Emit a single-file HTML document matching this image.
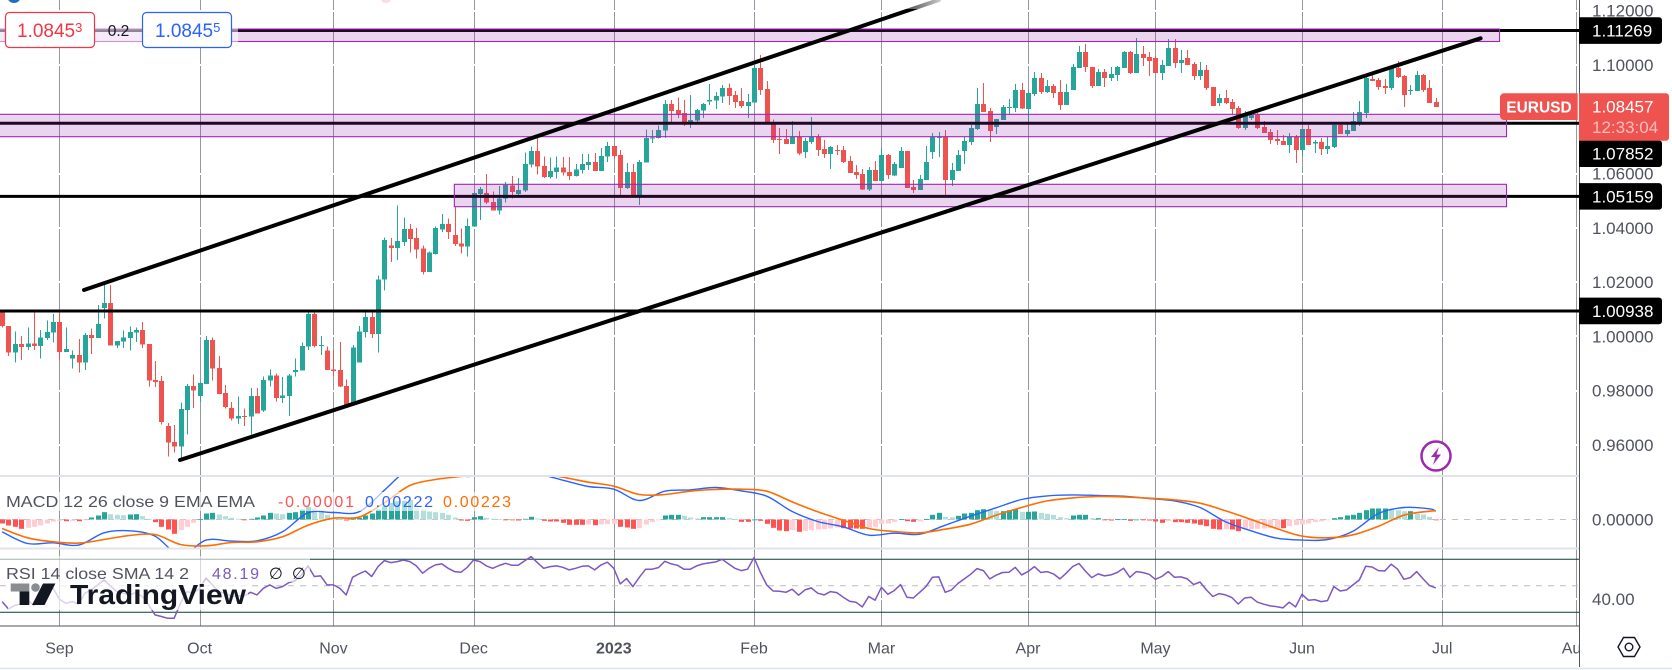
<!DOCTYPE html>
<html lang="en">
<head>
<meta charset="utf-8">
<title>EURUSD daily chart</title>
<style>
html,body{margin:0;padding:0;background:#fff;width:1672px;height:670px;overflow:hidden}
svg{display:block;font-family:"Liberation Sans",sans-serif}
text{font-family:"Liberation Sans","DejaVu Sans",sans-serif}
</style>
</head>
<body>
<svg id="chart" xmlns="http://www.w3.org/2000/svg" width="1672" height="670" viewBox="0 0 1672 670">
  <defs>
    <clipPath id="macd-clip"><rect x="0" y="477" width="1579" height="71"/></clipPath>
    <clipPath id="rsi-clip"><rect x="0" y="549" width="1579" height="77"/></clipPath>
    <linearGradient id="fade" x1="0" x2="1" y1="0" y2="0">
      <stop offset="0" stop-color="#fff" stop-opacity="0"/>
      <stop offset="1" stop-color="#fff" stop-opacity=".85"/>
    </linearGradient>
  </defs>
  <rect x="0" y="0" width="1672" height="670" fill="#fff"/>
  <g id="grid"></g>
  <g id="hist" clip-path="url(#macd-clip)"></g>
  <g id="macdLines" clip-path="url(#macd-clip)"></g>
  <g id="rsiPane" clip-path="url(#rsi-clip)"></g>
  <g id="candles" shape-rendering="crispEdges"></g>
  <g id="levels"></g>
  <g id="bands"></g>
  <g id="channels"></g>

  <rect x="885" y="0" width="60" height="9" fill="url(#fade)"/>
  <circle cx="14" cy="-4" r="7" fill="#1e6fc4"/>
  <circle cx="386" cy="-3" r="6" fill="#fbdfe0"/>

  <g>
    <circle cx="1436" cy="456" r="14.5" fill="#fff" stroke="#9c27b0" stroke-width="2.5"/>
    <path d="M1439 447l-8 10h4.500l-2.500 8 8-10.500h-4.500z" fill="#9c27b0"/>
  </g>

  <!-- top trading widget -->
  <rect x="0" y="12" width="238" height="36" fill="#fff" fill-opacity=".5"/>
  <g>
    <rect x="5.500" y="12.500" width="89" height="35" rx="4" fill="#fff" stroke="#f23645" stroke-width="1.200"/>
    <text x="17" y="37" font-size="19" fill="#f23645">1.0845<tspan font-size="13" dy="-5">3</tspan></text>
  </g>
  <text x="118.500" y="36" font-size="15.500" fill="#131722" text-anchor="middle">0.2</text>
  <g>
    <rect x="142.500" y="12.500" width="89" height="35" rx="4" fill="#fff" stroke="#2962ff" stroke-width="1.200"/>
    <text x="155" y="37" font-size="19" fill="#2962ff">1.0845<tspan font-size="13" dy="-5">5</tspan></text>
  </g>

  <!-- legends -->
  <rect x="4" y="492" width="511" height="19" fill="#fff" fill-opacity=".62"/>
  <text x="6" y="507" font-size="16" fill="#50535e" textLength="249" lengthAdjust="spacingAndGlyphs">MACD 12 26 close 9 EMA EMA</text>
  <text x="278" y="507" font-size="16" fill="#ff5252" textLength="76">-0.00001</text>
  <text x="365" y="507" font-size="16" fill="#2962ff" textLength="68">0.00222</text>
  <text x="443" y="507" font-size="16" fill="#ff6d00" textLength="68">0.00223</text>

  <rect x="0" y="556" width="310" height="26" fill="#fff" fill-opacity=".62"/>
  <rect x="8" y="582" width="240" height="28" fill="#fff" fill-opacity=".72"/>
  <text x="6" y="579" font-size="16" fill="#50535e" textLength="183" lengthAdjust="spacingAndGlyphs">RSI 14 close SMA 14 2</text>
  <text x="212" y="579" font-size="16" fill="#7e57c2" textLength="47">48.19</text>
  <text x="269" y="579" font-size="16" fill="#131722">∅</text>
  <text x="292" y="579" font-size="16" fill="#131722">∅</text>

  <g>
    <rect x="10.700" y="583.500" width="18.600" height="8" fill="#8a8c93"/>
    <rect x="19.600" y="591.500" width="9.700" height="13.500" fill="#131722"/>
    <circle cx="35.500" cy="587.500" r="4.300" fill="#8a8c93"/>
    <polygon points="43,583.500 55.400,583.500 44.600,605 32,605" fill="#131722"/>
    <text x="70" y="604" font-size="28" font-weight="bold" fill="#131722" textLength="176" lengthAdjust="spacingAndGlyphs">TradingView</text>
  </g>

  <!-- pane frames -->
  <line x1="0" x2="1579" y1="476" y2="476" stroke="#e0e3eb" stroke-width="2"/>
  <line x1="0" x2="1579" y1="548.500" y2="548.500" stroke="#e0e3eb" stroke-width="2"/>
  <rect x="0" y="627" width="1579" height="43" fill="#fff"/>
  <g id="timeLabels"></g>
  <rect x="1580" y="0" width="92" height="670" fill="#fff"/>
  <line x1="0" x2="1579" y1="626" y2="626" stroke="#50535e" stroke-width="1"/>
  <line x1="0" x2="1672" y1="668.500" y2="668.500" stroke="#e0e3eb" stroke-width="1.500"/>
  <line x1="1579.500" x2="1579.500" y1="0" y2="667" stroke="#50535e" stroke-width="1"/>
  <g id="priceLabels"></g>
  <g id="levelLabels"></g>

  <g>
    <path d="M1504 93.300h73.700v26.700h-73.700a4 4 0 0 1-4-4v-18.700a4 4 0 0 1 4-4z" fill="#ef5350"/>
    <text x="1539" y="112.500" font-size="15.500" fill="#fff" font-weight="bold" text-anchor="middle">EURUSD</text>
    <path d="M1579 93.300h87a3 3 0 0 1 3 3v41.400a3 3 0 0 1-3 3h-87z" fill="#ef5350"/>
    <text x="1592" y="112.500" font-size="17" fill="#fff">1.08457</text>
    <text x="1592" y="133" font-size="17" fill="#fff" fill-opacity=".62">12:33:04</text>
  </g>

  <g fill="none" stroke="#131722" stroke-width="1.400">
    <path d="M1623.500 637.500h11l5.500 9.500-5.500 9.500h-11l-5.500-9.500z"/>
    <circle cx="1629" cy="647" r="3.800"/>
  </g>
</svg>

<script>
// Candles, in units of 0.0001 price
const opens = [10084,10035,9937,9969,9958,9971,9961,9991,10010,10050,
9939,9915,9927,9900,10001,9991,10101,10119,9963,9977,
9991,10010,10020,9969,9836,9832,9666,9607,9590,9725,
9814,9777,9821,9983,9880,9787,9733,9693,9703,9701,
9777,9723,9833,9853,9770,9777,9865,9870,9959,10079,
9961,9944,9875,9873,9814,9750,9900,10013,10067,10005,
10206,10332,10322,10344,10392,10359,10321,10233,10300,10391,
10411,10369,10339,10327,10401,10521,10524,10492,10460,10504,
10553,10521,10534,10629,10679,10624,10583,10602,10619,10602,
10588,10610,10628,10639,10606,10659,10698,10665,10543,10602,
10516,10637,10725,10728,10755,10853,10831,10820,10784,10791,
10828,10861,10865,10880,10912,10886,10864,10845,10858,10985,
10908,10778,10724,10724,10705,10733,10676,10713,10733,10687,
10669,10683,10683,10642,10602,10595,10538,10610,10569,10665,
10590,10617,10680,10547,10536,10573,10676,10728,10733,10573,
10606,10680,10713,10761,10853,10827,10768,10794,10839,10838,
10904,10834,10890,10949,10897,10919,10897,10849,10904,10985,
11044,10989,10919,10971,10949,10960,10985,11044,10967,11037,
11026,11022,10967,10993,11059,11004,11022,11000,10956,10978,
10915,10857,10875,10860,10838,10764,10801,10812,10768,10750,
10724,10716,10702,10731,10683,10761,10707,10713,10687,10694,
10775,10742,10753,10786,10820,10945,10941,10919,10912,10985,
10956,10901,10901,10960,10912,10860];
const highs = [10088,10035,10015,9998,10030,10088,10020,10055,10079,10082,
10030,9944,9986,10008,10026,10112,10185,10186,9980,10018,
10032,10030,10050,9969,9905,9851,9678,9670,9752,9821,
9856,9828,9998,9993,9924,9817,9755,9774,9730,9806,
9806,9848,9875,9860,9846,9858,9915,9974,10086,10086,
9998,9959,9947,9976,9838,9964,10035,10086,10086,10221,
10361,10359,10479,10435,10411,10396,10332,10309,10401,10447,
10430,10474,10393,10430,10530,10546,10595,10531,10551,10565,
10588,10580,10674,10696,10733,10659,10656,10659,10658,10658,
10632,10669,10669,10672,10691,10713,10698,10683,10635,10632,
10646,10759,10757,10774,10868,10868,10876,10868,10886,10834,
10857,10926,10897,10923,10929,10901,10912,10890,10996,11033,
10937,10796,10764,10761,10790,10753,10728,10805,10742,10720,
10698,10702,10698,10661,10628,10613,10621,10643,10691,10669,
10639,10694,10680,10573,10591,10698,10745,10750,10757,10635,
10683,10731,10775,10912,10930,10838,10798,10849,10871,10926,
10930,10904,10971,10967,10941,10926,10941,10926,11000,11066,
11074,10989,10982,10982,10989,10993,11048,11048,11096,11066,
11044,11030,11015,11092,11092,11052,11052,11008,11008,10996,
10915,10890,10904,10871,10845,10827,10823,10820,10790,10761,
10757,10739,10746,10739,10761,10775,10720,10728,10731,10779,
10779,10786,10823,10864,10952,10960,10949,10945,10993,11011,
10960,10923,10974,10963,10941,10875];
const lows = [10030,9924,9900,9910,9947,9947,9915,9983,9974,9910,
9939,9878,9863,9873,9932,9991,10062,9963,9954,9954,
9944,9976,9954,9811,9809,9671,9553,9568,9544,9634,
9733,9755,9821,9833,9784,9730,9686,9674,9666,9634,
9713,9718,9811,9757,9750,9703,9848,9870,9947,9956,
9927,9873,9851,9809,9745,9750,9900,9993,9991,9937,
10165,10271,10278,10330,10305,10283,10224,10233,10298,10381,
10356,10330,10302,10290,10401,10425,10484,10460,10445,10489,
10504,10511,10529,10619,10592,10580,10578,10578,10589,10573,
10585,10596,10610,10606,10606,10639,10650,10516,10540,10516,
10481,10637,10709,10726,10728,10786,10801,10772,10764,10786,
10801,10849,10834,10857,10849,10838,10838,10801,10858,10886,
10785,10709,10669,10705,10705,10665,10654,10705,10661,10654,
10613,10665,10635,10599,10576,10536,10532,10569,10569,10576,
10588,10617,10543,10525,10536,10573,10650,10657,10518,10551,
10606,10632,10702,10757,10823,10713,10742,10794,10812,10823,
10834,10786,10882,10890,10893,10875,10831,10849,10904,10985,
10971,10912,10919,10915,10937,10937,10985,10963,10967,10993,
10956,10967,10941,10993,10985,10967,10996,10941,10941,10904,
10845,10845,10853,10812,10761,10757,10794,10761,10746,10705,
10702,10702,10672,10635,10661,10702,10672,10665,10669,10691,
10742,10735,10753,10772,10801,10937,10904,10890,10904,10949,
10842,10886,10901,10897,10857,10842];
const closes = [10035,9937,9969,9958,9971,9961,9993,10013,10050,9939,
9949,9927,9900,10001,9991,10042,10119,9963,9980,9993,
10013,10020,9966,9833,9828,9681,9605,9590,9728,9814,
9797,9824,9983,9878,9784,9737,9693,9703,9701,9777,
9713,9836,9853,9770,9779,9853,9873,9961,10079,9961,
9964,9873,9869,9811,9745,9956,10015,10067,10005,10206,
10351,10322,10347,10392,10356,10317,10233,10305,10396,10411,
10381,10337,10327,10403,10524,10540,10489,10460,10504,10554,
10528,10536,10632,10679,10622,10583,10605,10619,10600,10588,
10612,10632,10639,10606,10661,10698,10661,10543,10602,10516,
10639,10728,10730,10757,10853,10827,10816,10785,10794,10831,
10853,10868,10882,10912,10882,10860,10845,10860,10985,10904,
10785,10720,10721,10705,10733,10671,10716,10733,10683,10669,
10694,10681,10639,10599,10591,10538,10610,10569,10665,10591,
10632,10680,10543,10536,10576,10639,10733,10731,10573,10610,
10665,10716,10764,10853,10823,10753,10798,10842,10842,10904,
10836,10893,10949,10897,10919,10893,10849,10897,10989,11044,
10989,10919,10971,10949,10963,10989,11044,10967,11037,11022,
11011,10967,10996,11059,11004,11015,10996,10956,10978,10912,
10845,10875,10857,10834,10764,10812,10812,10764,10746,10720,
10716,10702,10731,10683,10761,10702,10713,10687,10698,10775,
10742,10757,10790,10823,10949,10937,10915,10912,10985,10952,
10886,10904,10960,10904,10857,10842];

// MACD histogram, in units of 0.00001 (one per bar)
const histValues = [-100,-150,-183,-233,-208,-183,-150,-100,-50,-33,
-42,-33,-42,-8,50,100,183,133,117,108,
125,133,83,17,-67,-183,-250,-358,-267,-183,
-83,8,150,167,125,83,42,17,-17,17,
50,100,167,150,133,167,183,250,317,283,
233,117,42,8,-25,25,42,100,150,250,
333,417,458,467,483,283,267,200,183,167,
117,50,-25,-33,58,83,42,17,8,-8,
-17,-25,17,67,25,-33,-50,-50,-83,-133,
-133,-133,-125,-142,-125,-117,-108,-183,-200,-233,
-217,-125,-67,-17,100,117,117,92,50,25,
58,58,58,58,33,8,-58,-58,0,-33,
-108,-208,-275,-292,-267,-308,-283,-267,-250,-242,
-225,-200,-217,-225,-225,-233,-200,-183,-108,-100,
-58,8,-42,-58,-50,8,117,167,67,58,
92,150,167,233,258,233,208,208,233,258,
192,192,200,167,142,117,58,33,100,117,
117,33,33,-17,-25,8,8,-33,0,-8,
-25,-50,-83,-42,-67,-67,-83,-100,-133,-167,
-233,-250,-242,-250,-292,-250,-242,-233,-225,-217,
-208,-217,-167,-142,-125,-100,-67,-50,-8,33,
58,100,117,167,233,275,275,275,250,233,
208,208,142,125,67,-8];

// Bars at which the MACD and signal curves were read
const lineBars = [0,4,8,12,16,20,24,28,32,36,40,44,48,52,56,60,64,68,72,76,80,84,88,92,96,100,104,108,112,116,120,124,128,132,136,140,144,148,152,156,160,164,168,172,176,180,184,188,192,196,200,204,208,212,216,220,224,225];
const macdValues = [-308,-600,-583,-641,-333,-283,-416,-891,-516,-541,-533,-308,167,175,192,733,1316,1649,1108,1133,1108,1133,983,825,758,475,708,741,800,716,583,200,-50,-183,-392,-342,-367,-142,83,292,500,591,616,600,583,525,466,300,-58,-283,-466,-516,-500,-292,150,300,267,208];
const signalValues = [-225,-458,-558,-591,-500,-400,-375,-625,-658,-575,-558,-433,-142,33,58,417,850,1000,1075,1150,1183,1166,1058,933,833,625,625,708,750,758,708,441,192,-17,-225,-300,-333,-242,-117,108,300,466,541,575,566,533,491,408,217,0,-225,-416,-458,-383,-167,108,208,217];

// RSI (one per bar)
const rsiValues = [38.1,32.5,35.3,36.3,39.3,35.0,44.4,46.4,48.1,39.8,
36.8,38.1,36.3,44.4,46.9,50.7,54.4,49.9,45.6,44.4,
43.1,44.9,41.9,35.6,28.0,26.8,25.5,25.5,36.8,45.6,
44.4,48.1,55.7,50.7,45.6,44.4,41.9,42.4,42.4,45.1,
43.1,48.1,50.7,48.1,49.4,52.4,53.9,58.2,65.0,57.0,
57.5,50.7,50.7,48.1,43.1,56.4,59.0,61.2,57.0,64.5,
69.0,67.5,68.3,69.5,68.3,65.0,59.5,63.2,65.8,66.5,
63.2,60.7,60.2,64.0,69.5,68.3,65.0,63.2,65.3,67.0,
65.5,65.5,68.8,72.0,67.5,63.2,64.5,65.0,64.0,62.0,
63.2,64.7,65.0,62.0,65.8,67.8,63.2,51.4,55.4,49.4,
56.4,62.5,62.5,63.7,68.5,66.5,65.5,62.5,62.5,65.0,
66.5,67.3,68.0,70.0,66.5,63.2,61.5,62.5,71.3,60.0,
50.7,46.1,45.9,45.1,47.4,42.9,46.9,48.4,44.4,43.1,
45.6,44.9,41.4,38.3,37.6,34.1,41.9,39.1,48.9,43.6,
46.4,50.9,41.4,40.8,45.1,49.4,56.4,56.7,45.1,46.9,
51.7,55.2,58.7,63.0,61.5,55.2,58.0,60.0,60.2,64.0,
58.2,60.7,64.5,60.0,60.7,59.0,55.2,59.5,64.5,66.8,
61.2,56.2,59.0,57.5,58.2,60.0,63.2,56.4,60.7,60.0,
58.7,54.9,57.0,60.7,56.4,56.7,55.2,50.9,52.9,46.9,
41.9,44.1,43.1,41.1,36.3,40.8,41.4,37.6,36.1,34.8,
34.3,33.3,37.6,34.1,43.6,39.1,39.6,38.1,38.8,49.4,
46.1,46.9,50.7,54.4,64.7,64.2,61.5,61.2,66.3,62.5,
54.9,56.2,60.7,55.2,50.2,48.4];

// Axis categories and tick labels
const monthNames = ["Sep","Oct","Nov","Dec","2023","Feb","Mar","Apr","May","Jun","Jul","Aug"];
const monthBars = [9,31,52,74,96,118,138,161,181,204,226,247];
const priceTicks = [1.12,1.10,1.06,1.04,1.02,1.00,0.98,0.96];
const macdTicks = [0];
const rsiTicks = [40];

// Drawings, expressed in bars and prices
const levelPrices = [1.11269,1.07852,1.05159,1.00938];
const bandStartBars = [-5,-5,70.97];
const bandEndBars = [235,236.1,236.1];
const bandHighPrices = [1.11326,1.08183,1.05604];
const bandLowPrices = [1.10866,1.07358,1.04779];
const upperChannelBars = [12.85,147];
const upperChannelPrices = [1.0171,1.12395];
const lowerChannelBars = [27.92,232.03];
const lowerChannelPrices = [0.95446,1.10984];

// Axis functions
const SVGNS = "http://www.w3.org/2000/svg";
const pipCalibration = 3.7;
function barX(k){ return 2.1 + k * 6.372; }
function priceY(p){ return 65 + (1.10 - p) * 2714; }
function pipY(v){ return priceY((v + pipCalibration) / 10000); }
function macdY(v){ return 519.5 - v * 0.04; }
function rsiY(v){ return 612.3 - (v - 30) * 1.325; }

function make(tag, attrs, parent){
  const el = document.createElementNS(SVGNS, tag);
  for (const key in attrs) el.setAttribute(key, attrs[key]);
  parent.appendChild(el);
  return el;
}
const $ = id => document.getElementById(id);
const PRICE_BOX_TOP = 93.3, PRICE_BOX_BOTTOM = 140.7;

// Gridlines
monthBars.forEach(k => {
  const x = Math.round(barX(k)) + 0.5;
  const el = make("line", {x1:x, x2:x, y1:0, y2:626, stroke:"#9598a1", "stroke-width":1}, $("grid"));
  
  
});
priceTicks.forEach(p => {
  const y = Math.round(priceY(p));
  const el = make("line", {x1:0, x2:1579, y1:y, y2:y, stroke:"#fff", "stroke-width":2}, $("grid"));
  
  
});
rsiTicks.forEach(v => {
  const y = Math.round(rsiY(v));
  const el = make("line", {x1:0, x2:1579, y1:y, y2:y, stroke:"#fff", "stroke-width":2}, $("grid"));
  
  
});

// MACD pane
macdTicks.forEach(v => {
  const y = macdY(v);
  const el = make("line", {x1:0, x2:1579, y1:y, y2:y, stroke:"#c0c0c4", "stroke-width":1, "stroke-dasharray":"6 6"}, $("hist"));
  
  
});
histValues.forEach((v, i) => {
  const prev = i ? histValues[i - 1] : v;
  let color;
  if (v >= 0) color = v >= prev ? "#26a69a" : "#b2dfdb";
  else color = v > prev ? "#ffcdd2" : "#ff5252";
  const top = Math.min(macdY(v), macdY(0));
  const h = Math.max(Math.abs(macdY(v) - macdY(0)), 0.8);
  const el = make("rect", {x:Math.round(barX(i)) - 2, y:top, width:5, height:h, fill:color}, $("hist"));
  
  
});
function polyline(bars, values, yFn, color, width, parent){
  const pts = bars.map((k, i) => barX(k).toFixed(1) + "," + yFn(values[i]).toFixed(1)).join(" ");
  return make("polyline", {points:pts, fill:"none", stroke:color, "stroke-width":width, "stroke-linejoin":"round"}, parent);
}
// MACD and signal were read every few bars, so join the readings with a smooth curve
function smoothPath(bars, values, yFn, color, width, parent){
  const pts = bars.map((k, i) => [barX(k), yFn(values[i])]);
  let d = "M" + pts[0][0].toFixed(1) + " " + pts[0][1].toFixed(1);
  for (let i = 0; i < pts.length - 1; i++) {
    const p0 = pts[Math.max(i - 1, 0)], p1 = pts[i], p2 = pts[i + 1], p3 = pts[Math.min(i + 2, pts.length - 1)];
    const c1x = p1[0] + (p2[0] - p0[0]) / 6, c1y = p1[1] + (p2[1] - p0[1]) / 6;
    const c2x = p2[0] - (p3[0] - p1[0]) / 6, c2y = p2[1] - (p3[1] - p1[1]) / 6;
    d += "C" + c1x.toFixed(1) + " " + c1y.toFixed(1) + " " + c2x.toFixed(1) + " " + c2y.toFixed(1) + " " + p2[0].toFixed(1) + " " + p2[1].toFixed(1);
  }
  return make("path", {d:d, fill:"none", stroke:color, "stroke-width":width, "stroke-linejoin":"round"}, parent);
}
const macdLineEl = smoothPath(lineBars, macdValues, macdY, "#2962ff", 1.4, $("macdLines"));


const signalLineEl = smoothPath(lineBars, signalValues, macdY, "#ff6d00", 1.6, $("macdLines"));



// RSI pane
[70, 30].forEach(v => {
  const y = rsiY(v);
  const el = make("line", {x1:0, x2:1579, y1:y, y2:y, stroke:"#0f3d30", "stroke-width":1}, $("rsiPane"));
  
  
});
const rsiMid = make("line", {x1:0, x2:1579, y1:rsiY(50), y2:rsiY(50), stroke:"#bdbdc2", "stroke-width":1, "stroke-dasharray":"6 6"}, $("rsiPane"));


const rsiLineEl = polyline(rsiValues.map((_, i) => i), rsiValues, rsiY, "#7e57c2", 1.5, $("rsiPane"));



// Candles
opens.forEach((o, i) => {
  const c = closes[i];
  const color = c >= o ? "#26a69a" : "#ef5350";
  const cx = Math.round(barX(i));
  const wick = make("rect", {x:cx, y:pipY(highs[i]), width:1, height:Math.max(pipY(lows[i]) - pipY(highs[i]), 1), fill:color}, $("candles"));
  
  
  const top = pipY(Math.max(o, c));
  const bottom = pipY(Math.min(o, c));
  const body = make("rect", {x:cx - 2, y:top, width:5, height:Math.max(bottom - top, 1), fill:color}, $("candles"));
  
  
});

// Horizontal levels
levelPrices.forEach(p => {
  const y = priceY(p);
  const el = make("line", {x1:0, x2:1579, y1:y, y2:y, stroke:"#000", "stroke-width":3}, $("levels"));
  
  
});

// Zones
bandStartBars.forEach((b, i) => {
  const x1 = barX(b), x2 = barX(bandEndBars[i]);
  const y1 = priceY(bandHighPrices[i]), y2 = priceY(bandLowPrices[i]);
  const el = make("rect", {x:x1, y:y1, width:x2 - x1, height:y2 - y1, fill:"#9c27b0", "fill-opacity":0.2, stroke:"#9c27b0", "stroke-width":1.1}, $("bands"));
  
  
});

// Channel lines
[[upperChannelBars, upperChannelPrices, 'upper'], [lowerChannelBars, lowerChannelPrices, 'lower']].forEach(set => {
  const el = make("line", {x1:barX(set[0][0]), y1:priceY(set[1][0]), x2:barX(set[0][1]), y2:priceY(set[1][1]), stroke:"#000", "stroke-width":4, "stroke-linecap":"round"}, $("channels"));
  
  
});

// Time labels
monthNames.forEach((name, i) => {
  const el = make("text", {x:barX(monthBars[i]), y:653.5, "font-size":16, fill:"#50535e", "text-anchor":"middle", "font-weight":name === "2023" ? "bold" : "normal"}, $("timeLabels"));
  
  
  el.textContent = name;
});

// Price labels
function axisLabel(y, str){
  const el = make("text", {x:1592, y:y + 6, "font-size":17, fill:"#50535e"}, $("priceLabels"));
  
  
  el.textContent = str;
}
priceTicks.forEach(p => axisLabel(priceY(p), p.toFixed(5)));
macdTicks.forEach(v => axisLabel(macdY(v), v.toFixed(5)));
rsiTicks.forEach(v => axisLabel(rsiY(v), v.toFixed(2)));

// Level labels, pushed below the live price box when they would collide
levelPrices.forEach(p => {
  let cy = priceY(p);
  if (cy - 13.3 < PRICE_BOX_BOTTOM && cy + 13.3 > PRICE_BOX_TOP) cy = PRICE_BOX_BOTTOM + 13;
  const box = make("path", {d:"M1579 " + (cy - 13.3) + "h80a3 3 0 0 1 3 3v20.600a3 3 0 0 1-3 3h-80z", fill:"#000"}, $("levelLabels"));
  
  
  const txt = make("text", {x:1592, y:cy + 6, "font-size":17, fill:"#fff"}, $("levelLabels"));
  
  
  txt.textContent = p.toFixed(5);
});
</script>
</body>
</html>
